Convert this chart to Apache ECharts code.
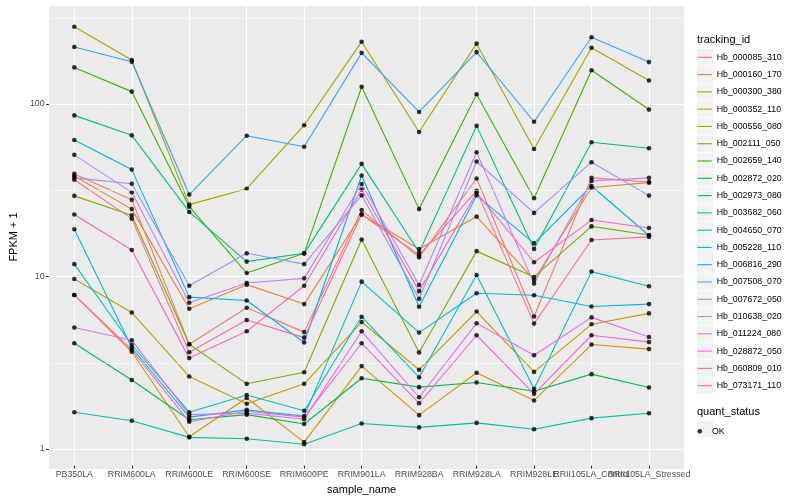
<!DOCTYPE html>
<html><head><meta charset="utf-8">
<script src="https://cdn.jsdelivr.net/npm/echarts@6/dist/echarts.min.js"></script>
<style>html,body{margin:0;padding:0;background:#fff}#c{width:800px;height:500px}</style>
</head><body><div id="c"></div>
<script>
// ---- data ----
const categories = ['PB350LA','RRIM600LA','RRIM600LE','RRIM600SE','RRIM600PE','RRIM901LA','RRIM928BA','RRIM928LA','RRIM928LE','RRII105LA_Control','RRII105LA_Stressed'];
const trackingIds = ['Hb_000085_310','Hb_000160_170','Hb_000300_380','Hb_000352_110','Hb_000556_080','Hb_002111_050','Hb_002659_140','Hb_002872_020','Hb_002973_080','Hb_003682_060','Hb_004650_070','Hb_005228_110','Hb_006816_290','Hb_007508_070','Hb_007672_050','Hb_010638_020','Hb_011224_080','Hb_028872_050','Hb_060809_010','Hb_073171_110'];
const Hb_000085_310 = [38.7, 27.3, 3.92, 6.4, 4.61, 23.8, 12.6, 36.4, 5.69, 36.7, 34.7];
const Hb_000160_170 = [37.6, 24.1, 6.31, 8.73, 6.72, 22.4, 14.1, 21.8, 9.3, 32.2, 34.4];
const Hb_000300_380 = [7.6, 3.54, 1.13, 1.90, 1.05, 2.92, 1.51, 2.67, 1.84, 3.9, 3.67];
const Hb_000352_110 = [9.42, 6.0, 2.54, 1.76, 2.30, 5.28, 2.78, 6.08, 2.70, 5.12, 5.93];
const Hb_000556_080 = [280, 179, 25.6, 31.7, 74.5, 229, 68, 223, 54.1, 211, 136];
const Hb_002111_050 = [28.8, 22.2, 3.92, 2.30, 2.69, 16.0, 3.51, 13.7, 9.68, 19.1, 17.0];
const Hb_002659_140 = [162, 117, 24.9, 10.2, 13.3, 125, 24.1, 113, 27.9, 156, 91.9];
const Hb_002872_020 = [3.97, 2.42, 1.42, 1.52, 1.34, 2.48, 2.20, 2.34, 2.08, 2.62, 2.19];
const Hb_002973_080 = [85, 65, 23.2, 11.9, 13.3, 44.3, 13.5, 73.8, 14.1, 59.2, 54.6];
const Hb_003682_060 = [1.57, 1.40, 1.12, 1.10, 1.02, 1.35, 1.28, 1.36, 1.25, 1.45, 1.55];
const Hb_004650_070 = [11.5, 3.89, 1.57, 1.98, 1.60, 5.67, 2.51, 9.94, 2.15, 10.4, 8.54];
const Hb_005228_110 = [18.4, 3.75, 1.47, 1.62, 1.49, 9.09, 4.58, 7.78, 7.57, 6.5, 6.72];
const Hb_006816_290 = [61, 41, 7.38, 7.05, 4.01, 37.9, 6.48, 29.0, 15.2, 32.9, 16.9];
const Hb_007508_070 = [213, 175, 29.3, 64.7, 55.8, 197, 89, 199, 78, 243, 174];
const Hb_007672_050 = [36.7, 33.9, 8.6, 13.3, 11.5, 29.0, 7.21, 45.7, 22.9, 45.3, 28.9];
const Hb_010638_020 = [50, 30.2, 6.84, 8.93, 9.5, 33.8, 8.69, 51.8, 8.85, 35.2, 36.7];
const Hb_011224_080 = [4.9, 4.13, 1.52, 1.55, 1.43, 4.66, 1.92, 5.19, 3.38, 5.62, 4.32];
const Hb_028872_050 = [7.6, 3.64, 1.38, 1.59, 1.47, 3.97, 1.77, 4.42, 2.01, 4.42, 4.03];
const Hb_060809_010 = [22.4, 13.9, 3.25, 4.66, 8.6, 31.4, 8.0, 30.0, 11.8, 20.8, 18.7];
const Hb_073171_110 = [35.8, 21.2, 3.52, 5.42, 4.28, 22.4, 13.0, 30.8, 5.17, 15.9, 16.6];
const seriesValues = [Hb_000085_310, Hb_000160_170, Hb_000300_380, Hb_000352_110, Hb_000556_080, Hb_002111_050, Hb_002659_140, Hb_002872_020, Hb_002973_080, Hb_003682_060, Hb_004650_070, Hb_005228_110, Hb_006816_290, Hb_007508_070, Hb_007672_050, Hb_010638_020, Hb_011224_080, Hb_028872_050, Hb_060809_010, Hb_073171_110];
const yTickLabels = [1, 10, 100];
const yMinorGrid = [3.1623, 31.623, 316.23];
const quantStatus = 'OK';

// ---- styles ----
const palette = ['#F8766D','#EA8331','#D89000','#C09B00','#A3A500','#7CAE00','#39B600','#00BB4E','#00BF7D','#00C1A3','#00BFC4','#00BAE0','#00B0F6','#35A2FF','#9590FF','#C77CFF','#E76BF3','#FA62DB','#FF62BC','#FF6C91'];
const FONT = 'Liberation Sans, Arial, Helvetica, sans-serif';
const PANEL = {left: 40, right: 684, top: 5, bottom: 469};
const X0 = 74.3, X1 = 649;
const Y_MIN = 0.766, Y_MAX = 375;
const LEG_LEFT = 697.5, LEG_TOP = 48.7, LEG_ROW = 17.28;

const chart = echarts.init(document.getElementById('c'), null, {renderer: 'canvas'});

const lineSeries = trackingIds.map((id, k) => ({
  name: id, type: 'line', xAxisIndex: 1, yAxisIndex: 1,
  data: seriesValues[k],
  showSymbol: false, symbol: 'none',
  color: palette[k],
  lineStyle: {width: 1.1, color: palette[k]},
  emphasis: {disabled: true}, z: 2
}));

const pointData = [];
seriesValues.forEach(vals => vals.forEach((v, i) => pointData.push([categories[i], v])));

const graphics = [];
trackingIds.forEach((id, k) => {
  graphics.push({type: 'rect', left: LEG_LEFT - 0.7, top: LEG_TOP + k * LEG_ROW + 0.35, shape: {width: 16.4, height: LEG_ROW - 0.7}, style: {fill: '#F2F2F2'}, z: 0, silent: true});
});
graphics.push({type: 'rect', left: LEG_LEFT - 0.7, top: 420.5, shape: {width: 16.4, height: LEG_ROW - 0.7}, style: {fill: '#F2F2F2'}, z: 0, silent: true});
graphics.push({type: 'text', left: 697, top: 34, style: {text: 'tracking_id', font: '11px ' + FONT, fill: '#000'}, z: 5});
graphics.push({type: 'text', left: 697, top: 406, style: {text: 'quant_status', font: '11px ' + FONT, fill: '#000'}, z: 5});

const option = {
  animation: false,
  backgroundColor: '#ffffff',
  textStyle: {fontFamily: FONT},
  grid: [
    {left: PANEL.left, right: 800 - PANEL.right, top: PANEL.top, bottom: 500 - PANEL.bottom, show: true, backgroundColor: '#EBEBEB', borderWidth: 0, containLabel: false},
    {left: X0, right: 800 - X1, top: PANEL.top, bottom: 500 - PANEL.bottom, show: false, containLabel: false}
  ],
  xAxis: [
    {type: 'value', gridIndex: 0, min: 0, max: 1, show: false},
    {type: 'category', gridIndex: 1, data: categories, boundaryGap: false,
     axisLine: {show: false},
     axisTick: {show: true, length: 3, interval: 0, lineStyle: {color: '#333333', width: 1}},
     axisLabel: {interval: 0, margin: 4.5, color: '#4D4D4D', fontSize: 8.8, fontFamily: FONT, hideOverlap: false},
     splitLine: {show: true, interval: 0, lineStyle: {color: '#FFFFFF', width: 1.1}},
     name: 'sample_name', nameLocation: 'middle', nameGap: 13,
     nameTextStyle: {color: '#000', fontSize: 11, fontFamily: FONT}}
  ],
  yAxis: [
    {type: 'log', gridIndex: 0, logBase: 10, min: Y_MIN, max: Y_MAX,
     axisLine: {show: false},
     axisTick: {show: true, length: 3, lineStyle: {color: '#333333', width: 1}},
     axisLabel: {margin: 4.5, color: '#4D4D4D', fontSize: 8.8, fontFamily: FONT,
       showMinLabel: false, showMaxLabel: false,
       formatter: v => (yTickLabels.indexOf(Math.round(v * 1000) / 1000) >= 0 ? String(Math.round(v)) : '')},
     splitLine: {show: true, lineStyle: {color: '#FFFFFF', width: 1.1}},
     name: 'FPKM + 1', nameLocation: 'middle', nameGap: 23, nameRotate: 90,
     nameTextStyle: {color: '#000', fontSize: 11, fontFamily: FONT}},
    {type: 'log', gridIndex: 1, logBase: 10, min: Y_MIN, max: Y_MAX, show: false,
     splitLine: {show: false}, axisLabel: {show: false}, axisTick: {show: false}}
  ],
  legend: [
    {data: trackingIds.map((id, k) => ({name: id, itemStyle: {color: palette[k], borderWidth: 0}})),
     orient: 'vertical', left: LEG_LEFT, top: LEG_TOP, padding: 0,
     itemWidth: 14.2, itemHeight: LEG_ROW, itemGap: 0,
     icon: 'path://M0,0h14v1.1h-14z',
     itemStyle: {borderWidth: 0},
     textStyle: {fontSize: 8.8, lineHeight: LEG_ROW, height: LEG_ROW, color: '#000', fontFamily: FONT},
     selectedMode: false, z: 4},
    {data: [{name: quantStatus, itemStyle: {color: '#000', borderWidth: 0}}],
     orient: 'vertical', left: LEG_LEFT, top: 429 - 2.3, padding: 0,
     itemWidth: 14.2, itemHeight: 4.6, icon: 'circle',
     itemStyle: {borderWidth: 0},
     textStyle: {fontSize: 8.8, color: '#000', fontFamily: FONT},
     selectedMode: false, z: 4}
  ],
  graphic: graphics,
  series: [
    {name: 'minor-grid', type: 'line', xAxisIndex: 0, yAxisIndex: 0, data: [], silent: true,
     markLine: {silent: true, symbol: ['none', 'none'], label: {show: false},
       lineStyle: {color: '#FFFFFF', width: 0.55, type: 'solid'},
       emphasis: {disabled: true},
       data: yMinorGrid.map(v => ({yAxis: v}))}, z: 1}
  ].concat(lineSeries).concat([
    {name: quantStatus, type: 'scatter', xAxisIndex: 1, yAxisIndex: 1, data: pointData,
     symbol: 'circle', symbolSize: 4.6, itemStyle: {color: '#000000'}, z: 3, emphasis: {disabled: true}}
  ])
};
chart.setOption(option);
</script></body></html>
